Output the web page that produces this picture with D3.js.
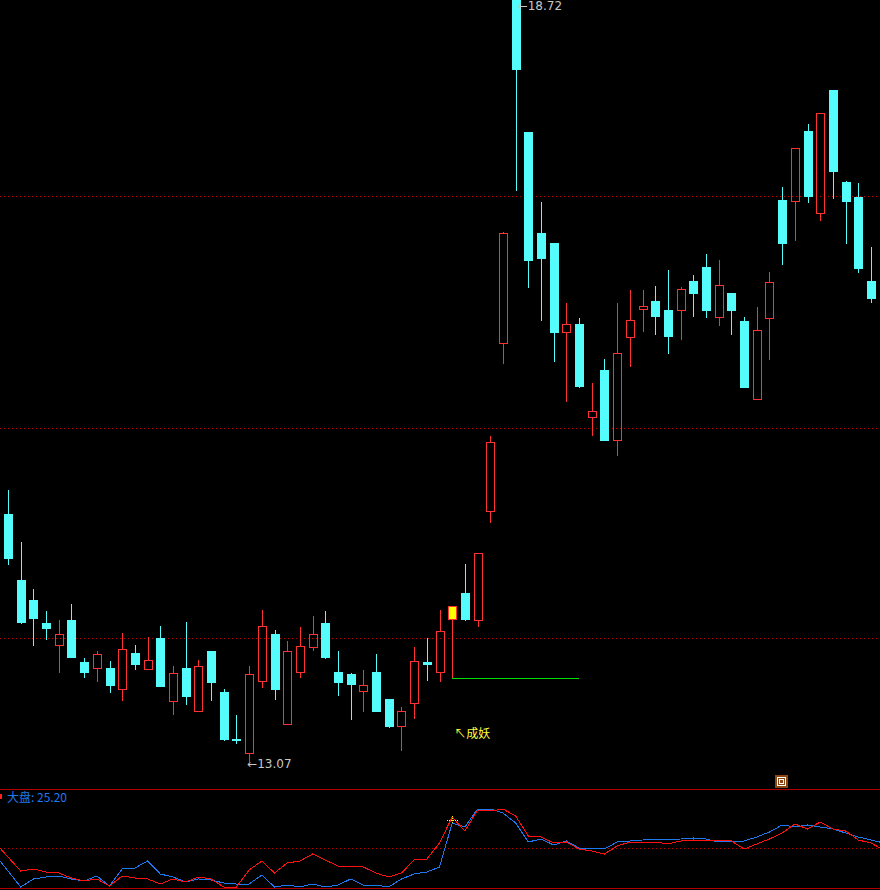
<!DOCTYPE html>
<html><head><meta charset="utf-8">
<script src="https://cdn.jsdelivr.net/npm/d3@7"></script>
<style>html,body{margin:0;padding:0;background:#000;overflow:hidden}svg{display:block}</style>
</head><body>
<script>
const openP  = [14.91,14.42,14.27,14.10,13.94,14.12,13.81,13.77,13.77,13.61,13.88,13.76,13.99,13.52,13.77,13.45,13.89,13.59,13.24,13.14,13.67,14.02,13.35,13.74,13.92,14.10,13.74,13.72,13.60,13.74,13.54,13.34,13.51,13.81,13.74,14.13,14.32,14.12,14.93,16.18,18.72,17.74,16.99,16.92,16.26,16.32,15.63,15.98,15.46,16.22,16.43,16.49,16.42,16.42,16.64,16.74,16.37,16.55,16.34,15.76,16.36,17.24,17.23,17.75,17.14,18.05,17.37,17.26,16.64];
const highP  = [15.09,14.70,14.35,14.19,14.12,14.24,13.84,13.89,13.82,14.03,13.94,14.00,14.08,13.78,14.11,13.83,13.89,13.61,13.42,13.78,14.20,14.05,13.97,14.07,14.15,14.19,13.89,13.73,13.75,13.87,13.54,13.48,13.92,13.99,14.20,14.23,14.54,14.62,15.49,17.00,18.72,17.74,17.22,16.92,16.47,16.36,15.88,16.06,16.47,16.57,16.57,16.60,16.72,16.59,16.68,16.84,16.79,16.55,16.37,16.44,16.70,17.33,17.62,17.80,17.88,18.05,17.38,17.36,16.89];
const lowP   = [14.54,14.10,13.94,13.98,13.73,13.85,13.70,13.66,13.59,13.52,13.76,13.76,13.63,13.42,13.50,13.45,13.53,13.23,13.21,13.07,13.62,13.54,13.35,13.69,13.89,13.84,13.57,13.39,13.44,13.45,13.33,13.15,13.39,13.68,13.66,13.69,14.12,14.07,14.84,16.02,17.31,16.59,16.35,16.04,15.74,15.85,15.49,15.46,15.34,16.00,16.26,16.24,16.10,16.20,16.38,16.37,16.30,16.24,15.85,15.76,16.05,16.76,16.93,17.22,17.08,17.25,16.92,16.70,16.48];
const closeP = [14.58,14.11,14.14,14.06,14.02,13.85,13.74,13.87,13.64,13.91,13.80,13.83,13.63,13.73,13.56,13.78,13.66,13.24,13.23,13.72,14.08,13.61,13.89,13.93,14.02,13.85,13.66,13.65,13.64,13.45,13.34,13.45,13.82,13.80,14.04,14.23,14.13,14.62,15.44,16.99,18.21,16.79,16.81,16.26,16.32,15.86,15.67,15.46,16.10,16.35,16.45,16.38,16.23,16.58,16.55,16.42,16.61,16.42,15.85,16.27,16.63,16.92,17.62,17.27,17.88,17.45,17.23,16.73,16.51];
const priceLevels = [17.27, 15.55, 13.99];
const signalIdx = 35;        // yellow signal bar
const greenEndIdx = 45;      // green support line end bar
const maxLabel = "18.72", minLabel = "13.07";
const signalText = "↖成妖";
// lower panel (first value = bar before view, last = bar after view)
const redLine  = [46,32,18,20,17,16,11,8,10,3,13,11,10,5,10,7,12,10,2,2,19,28,16,26,28,35,29,23,23,22,16,12,16,29,30,46,72,58,79,78,80,73,53,52,46,47,40,38,35,43,47,47,47,45,48,49,48,49,48,40,45,50,56,65,60,67,60,58,49,46,39];
const blueLine = [34,18,2,10,12,13,10,8,13,3,20,21,28,15,12,7,10,9,6,5,5,14,2,4,2,5,2,4,10,4,4,2,10,15,17,22,66,62,80,80,76,66,47,50,44,48,41,41,40,47,48,49,50,49,50,51,50,47,48,48,52,57,64,62,64,62,60,56,52,49,46];
const lowerRef = 41;
const lowerLabel = "大盘: 25.20";

const W = 880, H = 890;
const svg = d3.select("body").append("svg").attr("width", W).attr("height", H)
  .style("background", "#000").attr("shape-rendering", "crispEdges");

const n = openP.length;
const x = d3.scaleLinear().domain([0, n - 1]).range([8, 871]);
const y = d3.scaleLinear().domain([13.07, 18.72]).range([762, 0]);
const yl = d3.scaleLinear().domain([0, 100]).range([889, 789]);
const bw = 9;
const CYAN = "#54FCFC", RED = "#FF3232";
const px = v => Math.round(v) + 0.5;

// dotted price levels
svg.selectAll("line.lvl").data(priceLevels).join("line")
  .attr("x1", 0).attr("x2", W).attr("y1", d => px(y(d))).attr("y2", d => px(y(d)))
  .attr("stroke", "#C00000").attr("stroke-dasharray", "1,3");

// candles
const g = svg.append("g");
d3.range(n).forEach(i => {
  const o = openP[i], c = closeP[i], h = highP[i], l = lowP[i];
  const cx = Math.round(x(i));
  const up = c > o;
  const top = Math.round(y(Math.max(o, c))), bot = Math.round(y(Math.min(o, c)));
  const yh = Math.round(y(h)), ylw = Math.round(y(l));
  if (i === signalIdx) {
    g.append("line").attr("x1", cx + 0.5).attr("x2", cx + 0.5).attr("y1", bot).attr("y2", 678)
      .attr("stroke", RED);
    g.append("rect").attr("x", cx - 4 + 0.5).attr("y", top + 0.5).attr("width", bw - 1).attr("height", Math.max(1, bot - top))
      .attr("fill", "#FFFF00").attr("stroke", RED);
    return;
  }
  if (up) {
    if (yh < top) g.append("line").attr("x1", cx + 0.5).attr("x2", cx + 0.5).attr("y1", yh).attr("y2", top).attr("stroke", RED);
    if (ylw > bot) g.append("line").attr("x1", cx + 0.5).attr("x2", cx + 0.5).attr("y1", bot).attr("y2", ylw).attr("stroke", RED);
    g.append("rect").attr("x", cx - 4 + 0.5).attr("y", top + 0.5).attr("width", bw - 1).attr("height", Math.max(1, bot - top))
      .attr("fill", "none").attr("stroke", RED);
  } else {
    g.append("line").attr("x1", cx + 0.5).attr("x2", cx + 0.5).attr("y1", yh).attr("y2", ylw + 1).attr("stroke", CYAN);
    g.append("rect").attr("x", cx - 4).attr("y", top).attr("width", bw).attr("height", Math.max(2, bot - top + 1))
      .attr("fill", CYAN);
  }
});

// green support line from signal bar
svg.append("line").attr("x1", x(signalIdx)).attr("x2", x(greenEndIdx))
  .attr("y1", px(y(lowP[signalIdx]))).attr("y2", px(y(lowP[signalIdx])))
  .attr("stroke", "#00E000");

// labels
const imax = d3.maxIndex(highP), imin = d3.minIndex(lowP);
svg.append("text").attr("x", x(imax) + 2).attr("y", 10).attr("fill", "#C8C8C8")
  .attr("font-family", "DejaVu Sans, sans-serif").attr("font-size", 12).text("←" + maxLabel);
svg.append("text").attr("x", x(imin) - 2).attr("y", 768).attr("fill", "#C8C8C8")
  .attr("font-family", "DejaVu Sans, sans-serif").attr("font-size", 12).text("←" + minLabel);
svg.append("text").attr("x", x(signalIdx) + 2).attr("y", 738).attr("fill", "#FFFF40")
  .attr("font-family", "Noto Sans CJK SC, sans-serif").attr("font-size", 12).text(signalText);

// small icon
svg.append("rect").attr("x", 775).attr("y", 775).attr("width", 13).attr("height", 13).attr("fill", "#8B4513");
svg.append("rect").attr("x", 777.5).attr("y", 777.5).attr("width", 8).attr("height", 8).attr("fill", "none").attr("stroke", "#fff");
svg.append("rect").attr("x", 779.5).attr("y", 779.5).attr("width", 4).attr("height", 4).attr("fill", "none").attr("stroke", "#fff");

// lower panel
svg.append("line").attr("x1", 0).attr("x2", W).attr("y1", 789.5).attr("y2", 789.5).attr("stroke", "#B00000");
svg.append("line").attr("x1", 0).attr("x2", W).attr("y1", 888.5).attr("y2", 888.5).attr("stroke", "#B00000");
svg.append("line").attr("x1", 0).attr("x2", W).attr("y1", px(yl(lowerRef))).attr("y2", px(yl(lowerRef)))
  .attr("stroke", "#C00000").attr("stroke-dasharray", "1,3");

const line = d3.line().x((d, i) => x(i - 1)).y(d => yl(d));
svg.append("path").datum(blueLine).attr("d", line).attr("fill", "none").attr("stroke", "#1E78F0").attr("stroke-width", 1);
svg.append("path").datum(redLine).attr("d", line).attr("fill", "none").attr("stroke", "#FF1010").attr("stroke-width", 1);

// yellow signal marker on lower panel
const mx = Math.round(x(signalIdx)), my = Math.round(yl(redLine[signalIdx + 1])) + 3;
svg.append("line").attr("x1", mx - 5).attr("x2", mx + 6).attr("y1", my + 0.5).attr("y2", my + 0.5)
  .attr("stroke", "#FFFF00").attr("stroke-dasharray", "1,1");
svg.append("line").attr("x1", mx + 0.5).attr("x2", mx + 0.5).attr("y1", my - 4).attr("y2", my + 4)
  .attr("stroke", "#FFFF00").attr("stroke-dasharray", "1,1");

svg.append("rect").attr("x", 0).attr("y", 794).attr("width", 2).attr("height", 5).attr("fill", "#FF2020");
svg.append("text").attr("x", 7).attr("y", 802).attr("fill", "#1E78F0")
  .attr("font-family", "Noto Sans CJK SC, sans-serif").attr("font-size", 12).text(lowerLabel);
</script>
</body></html>
